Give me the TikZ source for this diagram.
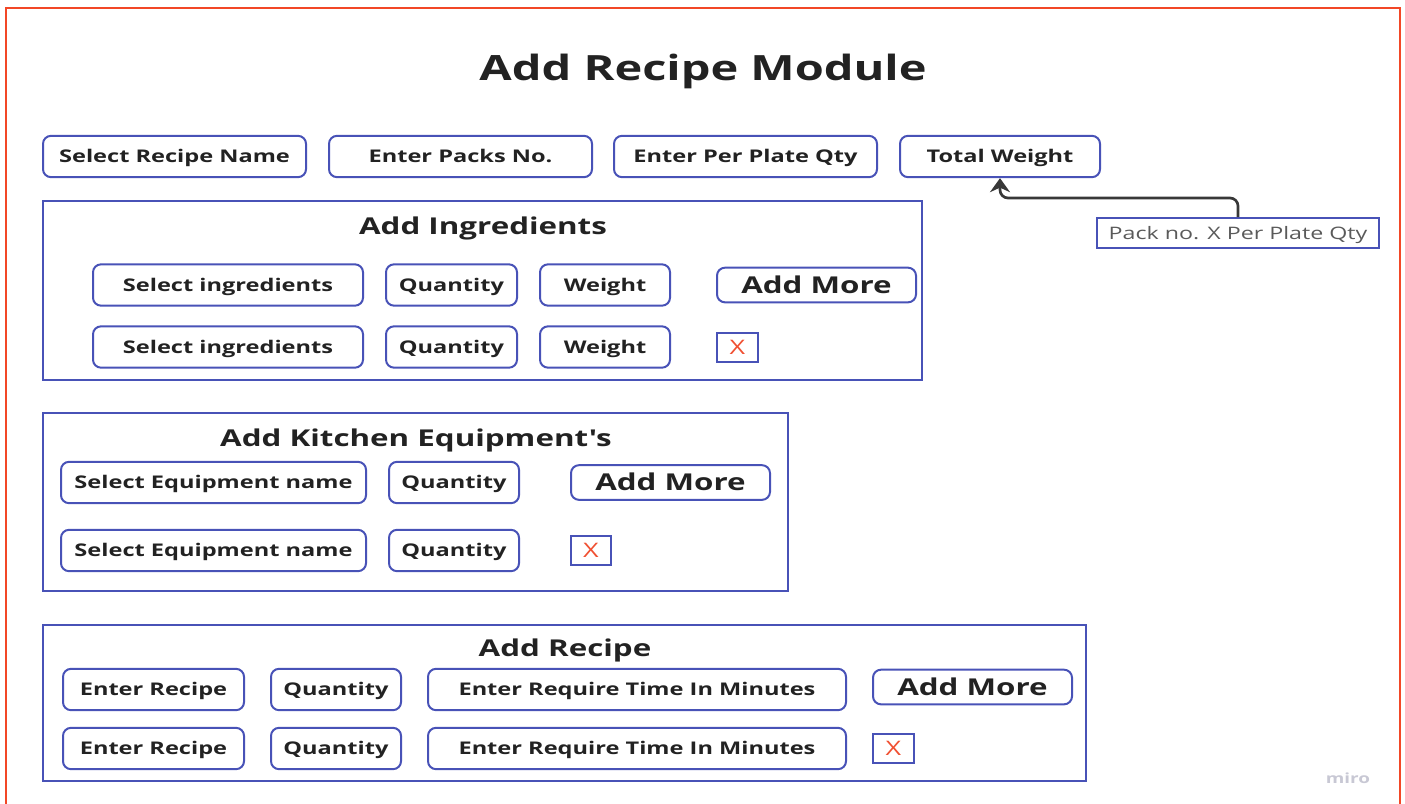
\documentclass[tikz,border=0pt]{standalone}
\usepackage{fontspec}
\usepackage{xcolor}
\usepackage{tikz}
\usetikzlibrary{positioning, arrows.meta}

\newfontfamily\uifont{Open Sans}[FakeStretch=1.35]
\definecolor{boxblue}{RGB}{72,82,183}
\definecolor{framered}{RGB}{242,71,38}
\definecolor{ink}{RGB}{34,34,34}
\definecolor{notegray}{RGB}{90,90,90}
\definecolor{crossred}{RGB}{240,80,50}
\definecolor{mirogray}{RGB}{200,200,212}

\begin{document}
\begin{tikzpicture}[x=0.75pt, y=-0.75pt,
    field/.style={draw=boxblue, line width=1.5pt, rounded corners=6pt, minimum height=31pt,
        inner sep=0pt, text height=9.35pt, text depth=0pt, text=ink,
        font=\uifont\bfseries\fontsize{13.1}{16}\selectfont, minimum width={#1*0.75pt}},
    addmore/.style={field=199, minimum height=26pt, text height=12.4pt,
        font=\uifont\bfseries\fontsize{17.4}{20}\selectfont},
    cross/.style={draw=boxblue, line width=1.5pt, minimum width=30.5pt, minimum height=22pt,
        inner sep=0pt, text height=10.7pt, text depth=0pt, text=crossred,
        font=\uifont\fontsize{15}{18}\selectfont},
    panel/.style={draw=boxblue, line width=1.5pt, inner sep=0pt},
    paneltitle/.style={text=ink, inner sep=0pt, text height=12.4pt, text depth=0pt,
        font=\uifont\bfseries\fontsize{17.4}{21}\selectfont},
    note/.style={draw=boxblue, line width=1.5pt, minimum width=211.5pt, minimum height=22.5pt,
        inner sep=0pt, text height=10.4pt, text depth=0pt, text=notegray,
        font=\uifont\fontsize{12.9}{15}\selectfont},
    link/.style={draw=ink!90, line width=2pt, rounded corners=6pt,
        -{Stealth[length=10.5pt, width=15pt]}}]
    \useasboundingbox (0,0) rectangle (1405,803);
    % frame
    \draw[framered, line width=1.5pt] (6,815) -- (6,8) -- (1400,8) -- (1400,815);
    \node[text=ink, inner sep=0pt, text height=18.6pt, text depth=0pt,
        font=\uifont\bfseries\fontsize{26.1}{32}\selectfont] (title) at (703,68.5) {Add Recipe Module};

    % top row
    \node[field=263] (recipename) at (174.5,156.5) {Select Recipe Name};
    \node[field=263] (packsno) at (460.5,156.5) {Enter Packs No.};
    \node[field=263] (plateqty) at (745.5,156.5) {Enter Per Plate Qty};
    \node[field=200] (totalwt) at (1000,156.5) {Total Weight};
    \node[note] (formula) at (1238,233) {Pack no. X Per Plate Qty};
    \coordinate (bend) at (1000,198);
    \path[link] (formula.north) |- (bend) -- (totalwt.south);

    % ingredients
    \node[panel, minimum width=659.25pt, minimum height=134.25pt] (ingr) at (482.5,290.5) {};
    \node[paneltitle] (ingrT) at (483,226) {Add Ingredients};
    \node[field=270] (ingr1) at (228,285) {Select ingredients};
    \node[field=131] (ingrq1) at (451.5,285) {Quantity};
    \node[field=130] (ingrw1) at (605,285) {Weight};
    \node[addmore] (ingrAdd) at (816.5,285) {Add More};
    \node[field=270] (ingr2) at (228,347) {Select ingredients};
    \node[field=131] (ingrq2) at (451.5,347) {Quantity};
    \node[field=130] (ingrw2) at (605,347) {Weight};
    \node[cross] (ingrX) at (737.5,347.5) {X};

    % kitchen equipment
    \node[panel, minimum width=558.75pt, minimum height=133.5pt] (equip) at (415.5,502) {};
    \node[paneltitle] (equipT) at (416,438) {Add Kitchen Equipment's};
    \node[field=305] (equip1) at (213.5,482.5) {Select Equipment name};
    \node[field=130] (equipq1) at (454,482.5) {Quantity};
    \node[addmore] (equipAdd) at (670.5,482.5) {Add More};
    \node[field=305] (equip2) at (213.5,550.5) {Select Equipment name};
    \node[field=130] (equipq2) at (454,550.5) {Quantity};
    \node[cross] (equipX) at (591,550.5) {X};

    % recipe
    \node[panel, minimum width=782.25pt, minimum height=117pt] (rec) at (564.5,703) {};
    \node[paneltitle] (recT) at (565,648) {Add Recipe};
    \node[field=181] (rec1) at (153.5,689.5) {Enter Recipe};
    \node[field=130] (recq1) at (336,689.5) {Quantity};
    \node[field=418] (rect1) at (637,689.5) {Enter Require Time In Minutes};
    \node[addmore] (recAdd) at (972.5,687) {Add More};
    \node[field=181] (rec2) at (153.5,748.5) {Enter Recipe};
    \node[field=130] (recq2) at (336,748.5) {Quantity};
    \node[field=418] (rect2) at (637,748.5) {Enter Require Time In Minutes};
    \node[cross] (recX) at (893.5,748.5) {X};

    \node[text=mirogray, font=\uifont\bfseries\fontsize{10.5}{12}\selectfont] (miro) at (1348,778) {miro};
\end{tikzpicture}
\end{document}
